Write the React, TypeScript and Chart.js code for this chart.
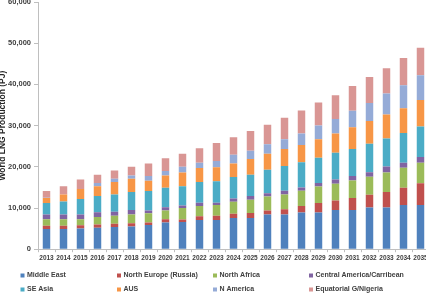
import React, { useEffect, useRef } from "react";
import { Chart, registerables } from "chart.js";

Chart.register(...registerables);

const years = ["2013","2014","2015","2016","2017","2018","2019","2020","2021","2022","2023","2024","2025","2026","2027","2028","2029","2030","2031","2032","2033","2034","2035"];

const middleEast = [4900,4900,5000,5200,5400,5500,5900,6500,6600,7100,7100,7600,7600,8400,8400,8900,8900,9500,9500,10100,10100,10700,10700];
const northEurope = [800,800,800,800,800,800,600,800,600,900,1000,1000,1200,1000,1300,1600,2300,2300,2900,3100,3800,4200,5300];
const northAfrica = [1600,1600,1500,1800,1900,2100,2200,2100,2800,2500,2600,2900,3200,3400,3600,3700,4000,4100,4300,4400,4700,4900,5000];
const centralAmerica = [1100,1100,1100,1200,1000,1100,700,800,600,800,600,800,900,800,900,800,900,1000,1100,1100,1500,1200,1400];
const seAsia = [2800,3200,3800,3900,4200,4400,4700,4700,4700,5000,5200,5200,5200,5700,6000,6100,6100,6500,6500,6900,6800,7200,7400];
const aus = [1200,1700,2400,2400,3000,3200,2500,3000,3300,3400,3400,3300,3800,3900,4100,4200,4500,4700,5300,5500,5800,6000,6400];
const nAmerica = [100,0,0,800,800,800,1200,1100,1400,1300,1500,2100,2000,2300,2400,2800,3300,3500,4000,4400,5100,5600,6000];
const equatorialGNigeria = [1600,2000,2300,2000,2000,2100,3000,3100,3200,3500,4400,4300,4800,4700,5200,5600,5600,5800,6000,6300,6100,6600,6700];

const seriesNames = ["Middle East","North Europe (Russia)","North Africa","Central America/Carribean","SE Asia","AUS","N America","Equatorial G/Nigeria"];
const seriesColors = ["#4F81BD","#C0504D","#9BBB59","#8064A2","#4BACC6","#F79646","#95ABD7","#D99694"];
const seriesData = [middleEast,northEurope,northAfrica,centralAmerica,seAsia,aus,nAmerica,equatorialGNigeria];

const FONT = "'Liberation Sans', Arial, sans-serif";

const legendPlugin = {
  id: "gridLegend",
  afterDraw(chart: any) {
    const ctx = chart.ctx;
    const colX = [20.5, 117, 213, 309];
    const rowY = [276.5, 290.5];
    ctx.save();
    ctx.font = `bold 7px ${FONT}`;
    ctx.textBaseline = "middle";
    ctx.textAlign = "left";
    chart.data.datasets.forEach((ds: any, i: number) => {
      const x = colX[i % 4];
      const y = rowY[Math.floor(i / 4)];
      ctx.fillStyle = ds.backgroundColor;
      ctx.fillRect(x, y - 2, 4, 4);
      ctx.fillStyle = "#404040";
      ctx.fillText(ds.label, x + 6.5, y);
    });
    ctx.restore();
  },
};

export default function App() {
  const ref = useRef<HTMLCanvasElement | null>(null);
  useEffect(() => {
    document.body.style.margin = "0";
    document.body.style.overflow = "hidden";
    const chart = new Chart(ref.current!, {
      type: "bar",
      data: {
        labels: years,
        datasets: seriesNames.map((name, i) => ({
          label: name,
          data: seriesData[i],
          backgroundColor: seriesColors[i],
          borderWidth: 0,
          categoryPercentage: 1,
          barPercentage: 0.44,
        })),
      },
      options: {
        animation: false,
        responsive: false,
        maintainAspectRatio: false,
        devicePixelRatio: 1,
        layout: { padding: { top: 0, right: 3, bottom: 40, left: 0 } },
        plugins: { legend: { display: false }, tooltip: { enabled: false } },
        scales: {
          x: {
            stacked: true,
            grid: { display: true, drawOnChartArea: false, offset: true, tickLength: 3, color: "#bfbfbf" },
            border: { color: "#bfbfbf" },
            ticks: {
              autoSkip: false,
              maxRotation: 0,
              minRotation: 0,
              padding: 2,
              color: "#404040",
              font: { family: FONT, size: 6.5, weight: "bold" },
            },
          },
          y: {
            stacked: true,
            min: 0,
            max: 60000,
            grid: { display: true, drawOnChartArea: false, tickLength: 4, color: "#bfbfbf" },
            border: { color: "#bfbfbf" },
            ticks: {
              stepSize: 10000,
              padding: 3,
              color: "#404040",
              font: { family: FONT, size: 7.5, weight: "bold", lineHeight: 0.01 },
              callback: (v: any) => Number(v).toLocaleString("en-US"),
            },
            title: {
              display: true,
              text: "World LNG Production (PJ)",
              color: "#262626",
              font: { family: FONT, size: 8.5, weight: "bold" },
              padding: { top: -2, bottom: 0 },
            },
            afterFit: (s: any) => { s.width = 38; },
          },
        },
      },
      plugins: [legendPlugin],
    } as any);
    return () => chart.destroy();
  }, []);
  return (
    <div style={{ width: 426, height: 305, overflow: "hidden", background: "#fff" }}>
      <canvas ref={ref} width={432} height={305} style={{ display: "block", width: 432, height: 305, marginTop: -1 }} />
    </div>
  );
}
